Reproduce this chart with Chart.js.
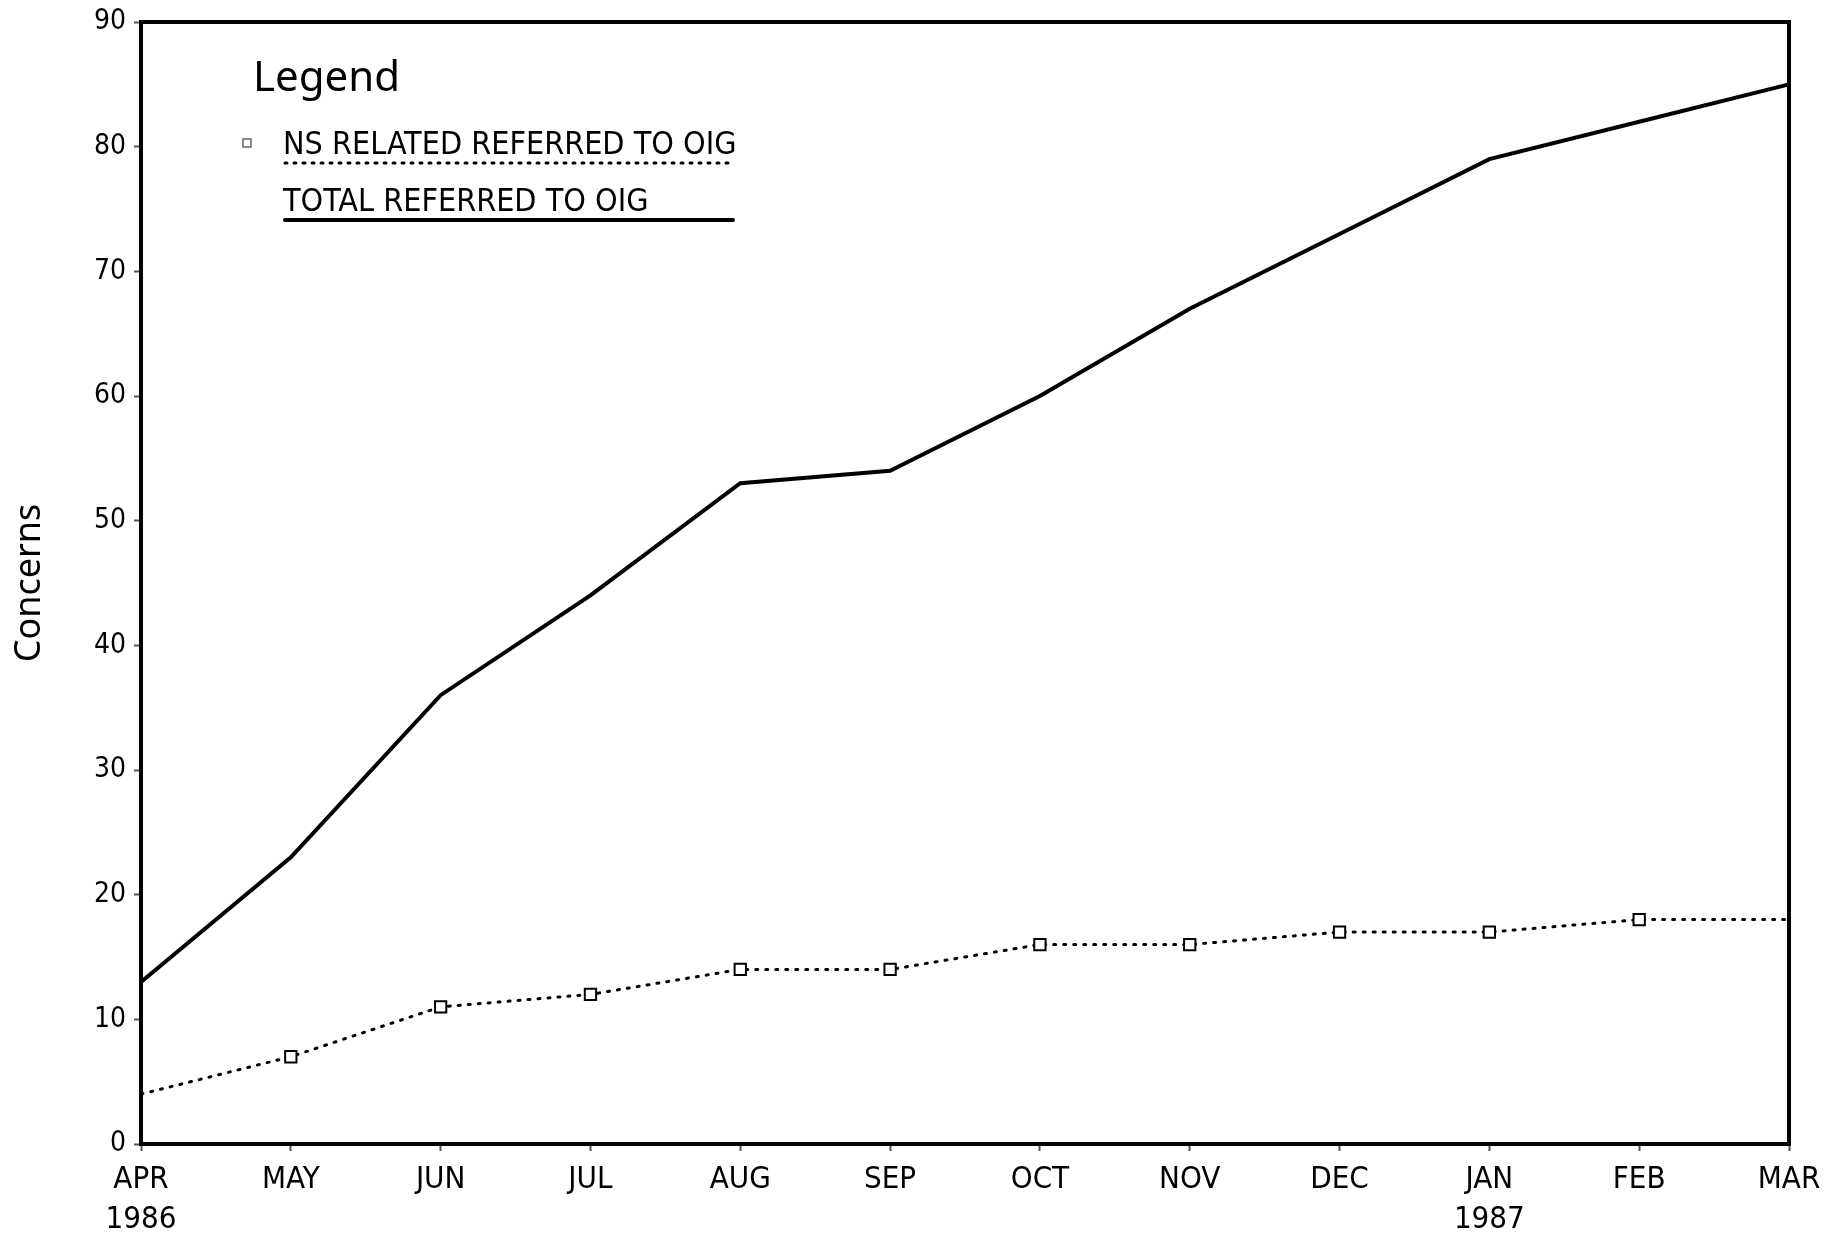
<!DOCTYPE html>
<html lang="en">
<head>
    <meta charset="UTF-8">
    <title>Concerns Referred to OIG</title>
    <style>
        * {
            margin: 0;
            padding: 0;
            box-sizing: border-box;
        }

        body {
            background-color: #ffffff;
        }

        .chart-box {
            width: 1843px;
            height: 1237px;
            position: relative;
        }
    </style>
</head>
<body>

<div class="chart-box">
    <canvas id="concernsChart"></canvas>
</div>

<script src="https://cdn.jsdelivr.net/npm/chart.js"></script>
<script>
    // Months (Apr 1986 - Mar 1987)
    const months = [['APR', '1986'], 'MAY', 'JUN', 'JUL', 'AUG', 'SEP', 'OCT', 'NOV', 'DEC', ['JAN', '1987'], 'FEB', 'MAR'];

    // Cumulative concerns
    const nsRelated = [4, 7, 11, 12, 14, 14, 16, 16, 17, 17, 18, 18];
    const totalReferred = [13, 23, 36, 44, 53, 54, 60, 67, 73, 79, 82, 85];

    const yTicks = [0, 10, 20, 30, 40, 50, 60, 70, 80, 90];

    const seriesNames = ['NS RELATED REFERRED TO OIG', 'TOTAL REFERRED TO OIG'];

    const narrowFont = '"Liberation Sans Narrow", "DejaVu Sans Condensed", "Liberation Sans", sans-serif';
    const ink = '#000000';

    // Frame around the plot area
    const frameBox = {
        id: 'frameBox',
        afterDatasetsDraw(chart) {
            const a = chart.chartArea;
            const ctx = chart.ctx;
            ctx.save();
            ctx.strokeStyle = ink;
            ctx.lineWidth = 4;
            ctx.strokeRect(a.left, a.top, a.right - a.left, a.bottom - a.top);
            ctx.restore();
        }
    };

    // Legend drawn inside the plot, text with underline in the series style
    const boxLegend = {
        id: 'boxLegend',
        afterDraw(chart) {
            const a = chart.chartArea;
            const ctx = chart.ctx;
            const x0 = a.left + 112;
            ctx.save();
            ctx.fillStyle = ink;
            ctx.textBaseline = 'alphabetic';
            ctx.font = '42px "Noto Sans", sans-serif';
            ctx.fillText('Legend', a.left + 112, a.top + 69);

            ctx.font = '32px ' + narrowFont;
            ctx.fillText(seriesNames[0], x0 + 30, a.top + 132);
            ctx.fillText(seriesNames[1], x0 + 30, a.top + 189);

            // dotted underline
            ctx.strokeStyle = ink;
            ctx.lineWidth = 3;
            ctx.lineCap = 'round';
            ctx.setLineDash([2, 7]);
            ctx.beginPath();
            ctx.moveTo(x0 + 32, a.top + 141);
            ctx.lineTo(x0 + 480, a.top + 141);
            ctx.stroke();

            // solid underline
            ctx.setLineDash([]);
            ctx.lineWidth = 4;
            ctx.beginPath();
            ctx.moveTo(x0 + 32, a.top + 198);
            ctx.lineTo(x0 + 480, a.top + 198);
            ctx.stroke();

            // tiny marker before first entry
            ctx.lineWidth = 1.5;
            ctx.strokeStyle = '#666';
            ctx.strokeRect(x0 - 10, a.top + 117, 8, 8);
            ctx.restore();
        }
    };

    const ctx = document.getElementById('concernsChart').getContext('2d');
    const concernsChart = new Chart(ctx, {
        type: 'line',
        data: {
            labels: months,
            datasets: [{
                label: seriesNames[0],
                data: nsRelated,
                borderColor: ink,
                borderWidth: 3,
                borderDash: [2, 8],
                borderCapStyle: 'round',
                pointStyle: 'rect',
                pointBackgroundColor: '#ffffff',
                pointBorderColor: ink,
                pointBorderWidth: 2,
                pointRadius: (c) => (c.dataIndex === 0 || c.dataIndex === nsRelated.length - 1) ? 0 : 8,
                tension: 0,
                fill: false
            }, {
                label: seriesNames[1],
                data: totalReferred,
                borderColor: ink,
                borderWidth: 4,
                pointRadius: 0,
                tension: 0,
                fill: false
            }]
        },
        options: {
            responsive: true,
            maintainAspectRatio: false,
            animation: false,
            layout: {
                padding: { left: 0, top: 16, right: 54, bottom: 0 }
            },
            plugins: {
                legend: { display: false },
                tooltip: { enabled: false }
            },
            scales: {
                x: {
                    offset: false,
                    border: { display: false },
                    grid: {
                        drawOnChartArea: false,
                        drawTicks: true,
                        tickLength: 7,
                        tickColor: '#555',
                        tickWidth: 2
                    },
                    ticks: {
                        color: ink,
                        padding: 9,
                        maxRotation: 0,
                        autoSkip: false,
                        font: { family: narrowFont, size: 31, lineHeight: 1.3 }
                    },
                    afterFit(scale) {
                        scale.height = 93;
                    }
                },
                y: {
                    min: 0,
                    max: 90,
                    border: { display: false },
                    afterBuildTicks(scale) {
                        scale.ticks = yTicks.map(v => ({ value: v }));
                    },
                    grid: {
                        drawOnChartArea: false,
                        drawTicks: true,
                        tickLength: 7,
                        tickColor: '#555',
                        tickWidth: 2
                    },
                    ticks: {
                        color: ink,
                        padding: 8,
                        font: { family: narrowFont, size: 28, lineHeight: 1 }
                    },
                    title: {
                        display: true,
                        text: 'Concerns',
                        color: ink,
                        padding: { top: 8, bottom: 0 },
                        font: { family: '"Noto Sans", sans-serif', size: 36 }
                    },
                    afterFit(scale) {
                        scale.width = 141;
                    }
                }
            }
        },
        plugins: [frameBox, boxLegend]
    });
</script>

</body>
</html>
